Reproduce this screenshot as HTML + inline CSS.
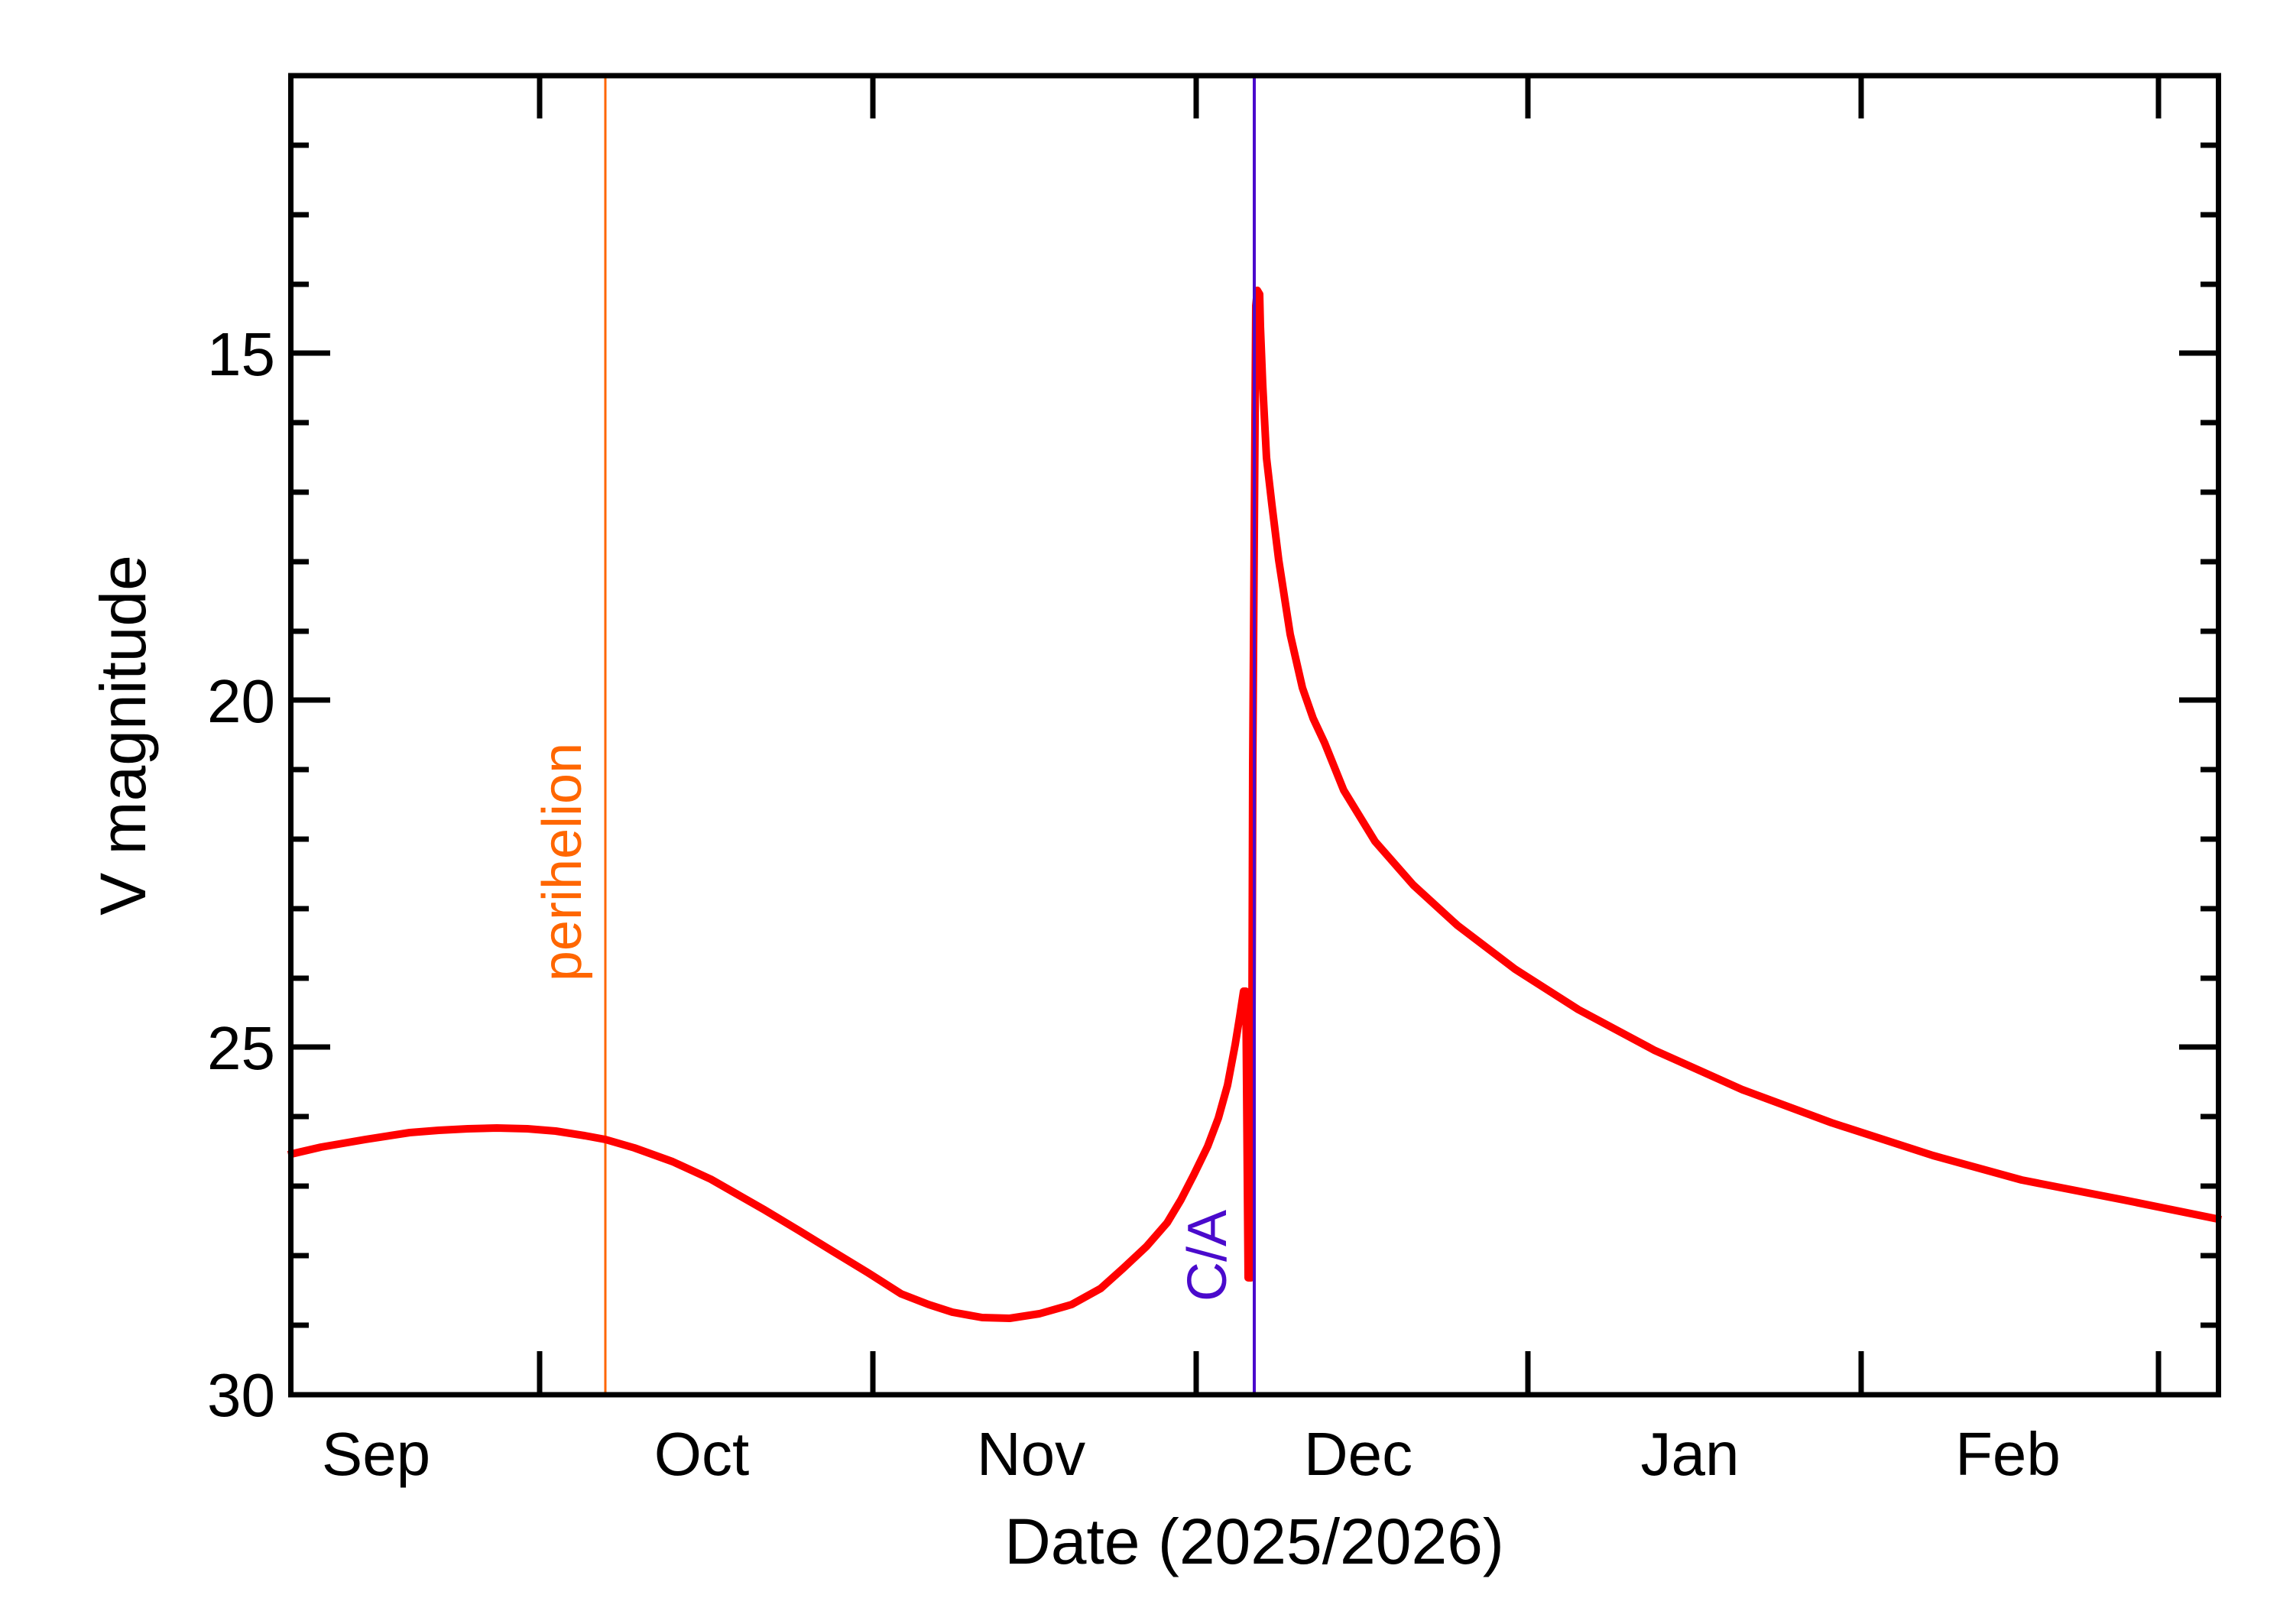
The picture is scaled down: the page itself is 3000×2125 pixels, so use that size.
<!DOCTYPE html>
<html><head><meta charset="utf-8"><style>
html,body{margin:0;padding:0;background:#fff;}
svg{display:block;}
text{font-family:"Liberation Sans",sans-serif;}
</style></head><body>
<svg width="3000" height="2125" viewBox="0 0 3000 2125" xmlns="http://www.w3.org/2000/svg">
<rect width="3000" height="2125" fill="#fff"/>
<line x1="792" y1="99" x2="792" y2="1824" stroke="#ff6600" stroke-width="3"/>
<polyline fill="none" stroke="#ff0000" stroke-width="10" stroke-linejoin="round" points="
377,1511 420,1501 478,1491 536,1482 574,1479 612,1477 650,1476 690,1477 727,1480 765,1486 792,1491 830,1502 880,1520 930,1543 1000,1583 1045,1610 1089,1637 1135,1665 1179,1693 1215,1707 1246,1717 1285,1724 1321,1725 1360,1719 1402,1707 1440,1686 1469,1660 1500,1631 1527,1600 1545,1570 1562,1537 1580,1500 1594,1463 1606,1420 1616,1367 1622,1330 1627,1297 1630,1297 1633,1672 1637,1672 1639,1000 1641,700 1643,400 1645,380 1648,385 1649,427 1652,503 1657,599 1664,660 1673,733 1688,830 1704,900 1718,940 1733,972 1758,1034 1799,1101 1849,1158 1907,1211 1982,1268 2065,1321 2164,1374 2280,1426 2396,1469 2529,1512 2645,1544 2778,1570 2906,1596"/>
<line x1="1641" y1="99" x2="1641" y2="1824" stroke="#4a0acc" stroke-width="4"/>
<rect x="380.5" y="99" width="2522" height="1726" fill="none" stroke="#000" stroke-width="7"/>
<g stroke="#000" stroke-width="7">
<line x1="706" y1="99" x2="706" y2="155"/><line x1="706" y1="1824" x2="706" y2="1768"/>
<line x1="1142" y1="99" x2="1142" y2="155"/><line x1="1142" y1="1824" x2="1142" y2="1768"/>
<line x1="1565" y1="99" x2="1565" y2="155"/><line x1="1565" y1="1824" x2="1565" y2="1768"/>
<line x1="1999" y1="99" x2="1999" y2="155"/><line x1="1999" y1="1824" x2="1999" y2="1768"/>
<line x1="2435" y1="99" x2="2435" y2="155"/><line x1="2435" y1="1824" x2="2435" y2="1768"/>
<line x1="2824" y1="99" x2="2824" y2="155"/><line x1="2824" y1="1824" x2="2824" y2="1768"/>
<path d="M377 190h27M377 281h27M377 372h27M377 553h27M377 644h27M377 735h27M377 826h27M377 1007h27M377 1098h27M377 1189h27M377 1280h27M377 1461h27M377 1552h27M377 1643h27M377 1734h27
M2906 190h-27M2906 281h-27M2906 372h-27M2906 553h-27M2906 644h-27M2906 735h-27M2906 826h-27M2906 1007h-27M2906 1098h-27M2906 1189h-27M2906 1280h-27M2906 1461h-27M2906 1552h-27M2906 1643h-27M2906 1734h-27"/>
<path d="M377 462h55M377 916h55M377 1370h55M2906 462h-55M2906 916h-55M2906 1370h-55"/>
</g>
<g font-size="80" text-anchor="end" fill="#000">
<text x="360" y="491">15</text>
<text x="360" y="945">20</text>
<text x="360" y="1399">25</text>
<text x="360" y="1853">30</text>
</g>
<g font-size="80" text-anchor="middle" fill="#000">
<text x="492" y="1930">Sep</text>
<text x="918" y="1930">Oct</text>
<text x="1349" y="1930">Nov</text>
<text x="1777" y="1930">Dec</text>
<text x="2211" y="1930">Jan</text>
<text x="2627" y="1930">Feb</text>
</g>
<text x="1641" y="2046" font-size="84" text-anchor="middle">Date (2025/2026)</text>
<text transform="translate(190,962) rotate(-90)" font-size="84" text-anchor="middle">V magnitude</text>
<text transform="translate(760,1128) rotate(-90)" font-size="72" text-anchor="middle" fill="#ff6600">perihelion</text>
<text transform="translate(1604,1643) rotate(-90)" font-size="72" text-anchor="middle" fill="#4a0acc">C/A</text>
</svg>
</body></html>
